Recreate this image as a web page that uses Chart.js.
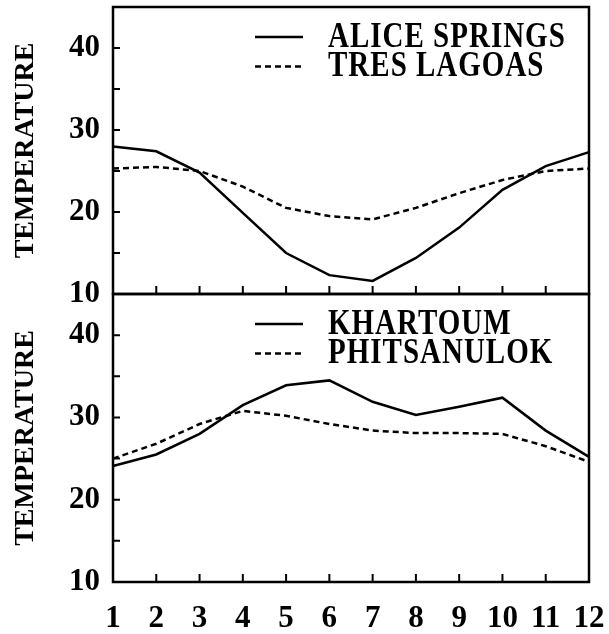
<!DOCTYPE html>
<html>
<head>
<meta charset="utf-8">
<script src="https://cdn.jsdelivr.net/npm/chart.js@4"></script>
<style>
  html, body { margin: 0; padding: 0; background: #fff; }
  #wrap { position: relative; width: 609px; height: 634px; }
  #wrap canvas { position: absolute; left: 0; top: 0; }
</style>
</head>
<body>
<div id="wrap">
  <canvas id="top-chart" width="609" height="634"></canvas>
  <canvas id="bottom-chart" width="609" height="634"></canvas>
</div>
<script>
const months = ['1', '2', '3', '4', '5', '6', '7', '8', '9', '10', '11', '12'];

const aliceSprings = [28.0, 27.4, 24.8, 19.9, 15.0, 12.3, 11.6, 14.4, 18.1, 22.7, 25.6, 27.3];
const tresLagoas = [25.3, 25.5, 25.0, 23.1, 20.5, 19.5, 19.1, 20.5, 22.3, 23.9, 25.0, 25.3];

const khartoum = [24.1, 25.5, 28.0, 31.5, 33.9, 34.5, 31.9, 30.3, 31.3, 32.4, 28.4, 25.2];
const phitsanulok = [25.0, 26.8, 29.2, 30.8, 30.2, 29.2, 28.4, 28.1, 28.1, 28.0, 26.5, 24.6];

const yMin = 10;
const yMax = 45;
const yStep = 5;
const yLabelled = [10, 20, 30, 40];
const axisTitle = 'TEMPERATURE';

const serif = 'Liberation Serif';
const dashed = [6, 4];

// frame round the plot with the small inward ticks
const framePlugin = {
    id: 'frame',
    afterDatasetsDraw(chart) {
        const { ctx, chartArea: a, scales } = chart;
        ctx.save();
        ctx.strokeStyle = '#000';
        ctx.lineWidth = 2.5;
        ctx.strokeRect(a.left, a.top, a.right - a.left, a.bottom - a.top);
        ctx.lineWidth = 2;
        ctx.beginPath();
        for (let i = 1; i < months.length - 1; i++) {
            const x = scales.x.getPixelForValue(i);
            ctx.moveTo(x, a.bottom);
            ctx.lineTo(x, a.bottom - 8);
        }
        for (let v = yMin + yStep; v < yMax; v += yStep) {
            const y = scales.y.getPixelForValue(v);
            ctx.moveTo(a.left, y);
            ctx.lineTo(a.left + 7, y);
        }
        ctx.stroke();
        ctx.restore();
    }
};

// legend drawn inside the plot, line sample then name (text a bit stretched upward like the print)
const innerLegendPlugin = {
    id: 'innerLegend',
    afterDraw(chart) {
        const { ctx, chartArea: a } = chart;
        const stretch = 1.2;
        ctx.save();
        ctx.fillStyle = '#000';
        ctx.strokeStyle = '#000';
        ctx.lineWidth = 2.5;
        ctx.font = 'bold 29px "' + serif + '"';
        ctx.letterSpacing = '1px';
        ctx.textBaseline = 'middle';
        chart.data.datasets.forEach((ds, i) => {
            const y = a.top + 30 + i * 29.5;
            ctx.setLineDash(ds.borderDash || []);
            ctx.beginPath();
            ctx.moveTo(a.left + 142, y);
            ctx.lineTo(a.left + 190, y);
            ctx.stroke();
            ctx.setLineDash([]);
            ctx.save();
            ctx.translate(a.left + 215, y + 1);
            ctx.scale(1, stretch);
            ctx.fillText(ds.label, 0, 0);
            ctx.restore();
        });
        ctx.restore();
    }
};

function makeDataset(label, values, dash) {
    return {
        label: label,
        data: values,
        borderColor: '#000',
        borderWidth: 2.5,
        borderDash: dash,
        pointRadius: 0,
        tension: 0,
        fill: false
    };
}

function makeOptions(padding, showX) {
    return {
        responsive: false,
        animation: false,
        layout: { padding: padding },
        plugins: { legend: { display: false }, tooltip: { enabled: false } },
        scales: {
            x: {
                display: showX,
                offset: false,
                grid: { display: false, drawTicks: false },
                border: { display: false },
                ticks: {
                    color: '#000',
                    padding: 18,
                    maxRotation: 0,
                    autoSkip: false,
                    font: { family: serif, weight: 'bold', size: 31 }
                },
                afterFit(scale) {
                    scale.height = showX ? 52 : 0;
                    scale.paddingLeft = 0;
                    scale.paddingRight = 0;
                }
            },
            y: {
                min: yMin,
                max: yMax,
                grid: { display: false, drawTicks: false },
                border: { display: false },
                ticks: {
                    stepSize: yStep,
                    autoSkip: false,
                    color: '#000',
                    padding: 13,
                    font: { family: serif, weight: 'bold', size: 31 },
                    callback: (v) => yLabelled.includes(v) ? String(v) : ''
                },
                title: {
                    display: true,
                    text: axisTitle,
                    color: '#000',
                    padding: { top: 9, bottom: 0 },
                    font: { family: serif, weight: 'bold', size: 28 }
                },
                afterFit(scale) {
                    scale.width = 113;
                    scale.paddingTop = 0;
                    scale.paddingBottom = 0;
                }
            }
        }
    };
}

new Chart(document.getElementById('top-chart'), {
    type: 'line',
    data: {
        labels: months,
        datasets: [
            makeDataset('ALICE SPRINGS', aliceSprings, []),
            makeDataset('TRES LAGOAS', tresLagoas, dashed)
        ]
    },
    options: makeOptions({ top: 7, bottom: 340, left: 0, right: 20 }, false),
    plugins: [framePlugin, innerLegendPlugin]
});

new Chart(document.getElementById('bottom-chart'), {
    type: 'line',
    data: {
        labels: months,
        datasets: [
            makeDataset('KHARTOUM', khartoum, []),
            makeDataset('PHITSANULOK', phitsanulok, dashed)
        ]
    },
    options: makeOptions({ top: 294, bottom: 0, left: 0, right: 20 }, true),
    plugins: [framePlugin, innerLegendPlugin]
});
</script>
</body>
</html>
